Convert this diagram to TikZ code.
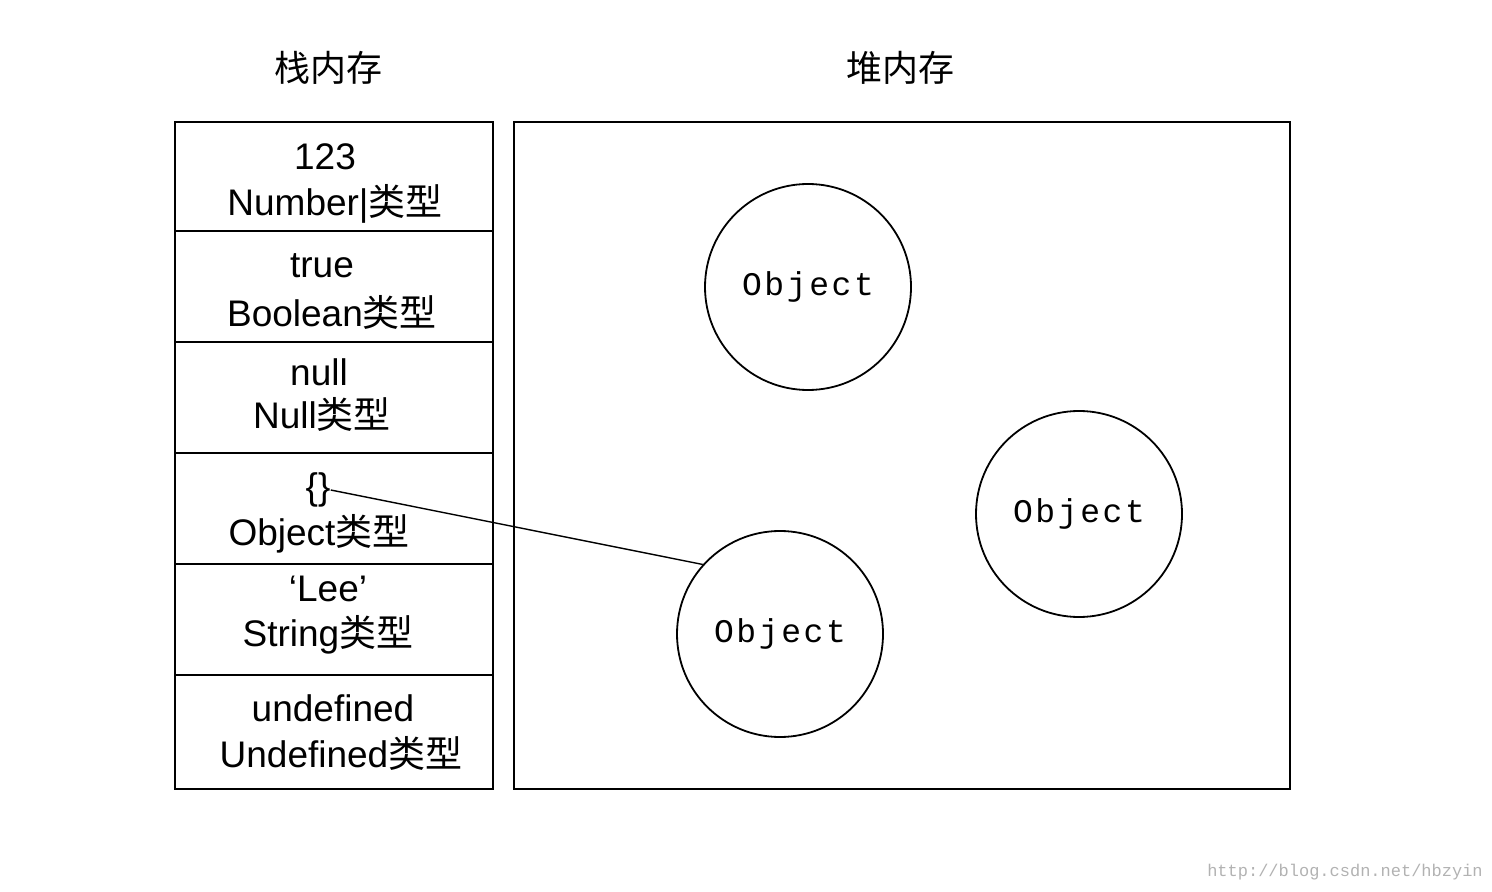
\documentclass[tikz,border=0pt]{standalone}
\usepackage{fontspec}
\setmainfont{Liberation Sans}
\newfontfamily\cjk{Noto Sans CJK SC}
\newfontfamily\monof[LetterSpace=8]{Liberation Mono}
\newfontfamily\wmfont{Liberation Mono}
\begin{document}
\begin{tikzpicture}[x=0.5pt,y=-0.5pt,
  cell/.style={draw,line width=0.9pt},
  val/.style={inner sep=0pt,font=\fontsize{18.5}{20}\selectfont},
  obj/.style={draw,circle,line width=0.9pt,minimum size=103pt,inner sep=0pt,font=\monof\fontsize{16.5}{18}\selectfont},
  ttl/.style={font=\cjk\fontsize{18}{20}\selectfont}]
\useasboundingbox (0,0) rectangle (1492,892);
\node[ttl] (t1) at (328,68) {栈内存};
\node[ttl] (t2) at (900,68) {堆内存};
\draw[cell] (175,122) rectangle (493,789);
\foreach \y in {231,342,453,564,675} \draw[cell] (175,\y) -- (493,\y);
\draw[cell] (514,122) rectangle (1290,789);
\node[val] (v1) at (325,157) {123};
\node[val] (n1) at (335,204) {Number|{\cjk 类型}};
\node[val] (v2) at (322,266) {true};
\node[val] (n2) at (332,312) {Boolean{\cjk 类型}};
\node[val] (v3) at (319,372) {null};
\node[val] (n3) at (322,414) {Null{\cjk 类型}};
\node[val] (v4) at (318,490) {\{\}};
\node[val] (n4) at (319,534) {Object{\cjk 类型}};
\node[val] (v5) at (328,589) {‘Lee’};
\node[val] (n5) at (328,635) {String{\cjk 类型}};
\node[val] (v6) at (333,708) {undefined};
\node[val] (n6) at (341,753) {Undefined{\cjk 类型}};
\node[obj] (c1) at (808,287) {Object};
\node[obj] (c2) at (1079,514) {Object};
\node[obj] (c3) at (780,634) {Object};
\draw[line width=0.7pt] (v4.east) -- (c3.138);
\node[font=\fontsize{8.5}{11}\selectfont\wmfont,text=black!30] (wm) at (1345,872) {http://blog.csdn.net/hbzyin};
\end{tikzpicture}
\end{document}
